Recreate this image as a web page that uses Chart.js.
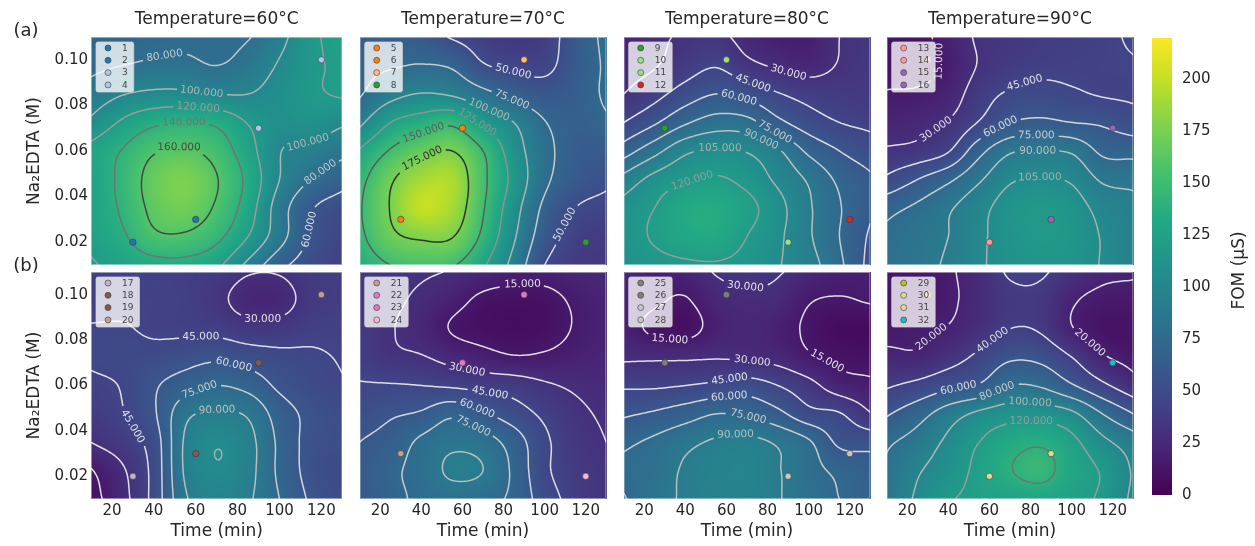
<!DOCTYPE html>
<html>
<head>
<meta charset="utf-8">
<script src="https://cdn.jsdelivr.net/npm/chart.js@4.4.0/dist/chart.umd.min.js"></script>
<style>
html, body { margin: 0; padding: 0; background: #fff; }
#wrap { position: relative; width: 1255px; height: 546px; overflow: hidden; }
#wrap canvas { position: absolute; }
</style>
</head>
<body>
<div id="wrap"></div>
<script>
// grid nodes the FOM surfaces were read on (rows run from top = 0.11 M down to 0.01 M)
const timeNodes = [10, 25, 40, 55, 70, 85, 100, 115, 130];
const edtaNodes = [0.11, 0.0975, 0.085, 0.0725, 0.06, 0.0475, 0.035, 0.0225, 0.01];

const temps = [60, 70, 80, 90];
const timeTicks = [20, 40, 60, 80, 100, 120];
const edtaTicks = [0.02, 0.04, 0.06, 0.08, 0.10];
const fomTicks = [0, 25, 50, 75, 100, 125, 150, 175, 200];
const fomMax = 220;

// (a) row
const fom60a = [
  [72, 72, 75, 76, 77, 79, 94, 116, 126],
  [76, 80, 83, 84, 80, 87, 102, 116, 124],
  [88, 99, 104, 104, 100, 100, 108, 117, 122],
  [104, 123, 136, 140, 136, 119, 108, 110, 103],
  [126, 141, 158, 162, 152, 128, 101, 95, 85],
  [126, 145, 168, 176, 161, 135, 100, 80, 68],
  [126, 143, 165, 172, 157, 130, 90, 62, 50],
  [124, 137, 156, 157, 145, 120, 88, 58, 45],
  [118, 126, 132, 133, 124, 95, 66, 50, 40]
];
const fom70a = [
  [66, 66, 62, 48, 40, 35, 40, 62, 80],
  [70, 73, 76, 72, 52, 46, 45, 62, 78],
  [73, 92, 101, 97, 82, 68, 60, 65, 78],
  [95, 125, 137, 145, 120, 100, 76, 66, 72],
  [127, 152, 168, 175, 150, 112, 82, 65, 62],
  [143, 172, 190, 192, 155, 118, 80, 62, 54],
  [148, 176, 200, 190, 152, 110, 70, 50, 44],
  [145, 170, 178, 176, 145, 103, 62, 42, 38],
  [135, 150, 155, 152, 128, 92, 50, 38, 35]
];
const fom80a = [
  [22, 27, 32, 34, 24, 18, 18, 30, 35],
  [25, 29, 38, 44, 34, 28, 24, 31, 36],
  [30, 40, 52, 60, 55, 46, 40, 38, 36],
  [45, 58, 73, 82, 80, 64, 52, 45, 42],
  [68, 85, 102, 107, 104, 92, 72, 60, 52],
  [95, 110, 118, 122, 115, 102, 88, 72, 62],
  [110, 120, 132, 134, 125, 110, 92, 76, 62],
  [112, 122, 130, 132, 120, 108, 92, 75, 58],
  [108, 114, 117, 118, 114, 106, 96, 78, 55]
];
const fom90a = [
  [12, 12, 20, 32, 34, 38, 40, 42, 47],
  [10, 10, 18, 31, 38, 41, 42, 43, 44],
  [16, 17, 22, 38, 47, 50, 47, 44, 43],
  [22, 25, 31, 46, 60, 63, 60, 58, 52],
  [32, 35, 44, 70, 88, 90, 88, 72, 70],
  [48, 60, 72, 88, 103, 106, 103, 88, 86],
  [70, 78, 88, 100, 112, 117, 112, 100, 94],
  [78, 85, 90, 102, 112, 117, 114, 104, 96],
  [80, 86, 92, 103, 110, 113, 112, 104, 96]
];
// (b) row
const fom60b = [
  [40, 42, 42, 40, 38, 31, 31, 38, 40],
  [40, 42, 43, 41, 34, 24, 24, 36, 40],
  [46, 46, 43, 42, 41, 36, 36, 41, 42],
  [47, 49, 50, 54, 57, 53, 49, 47, 44],
  [42, 46, 58, 68, 75, 70, 57, 50, 46],
  [38, 44, 58, 86, 92, 88, 68, 56, 50],
  [30, 38, 52, 92, 104, 95, 72, 55, 52],
  [14, 28, 50, 92, 104, 95, 72, 55, 48],
  [10, 25, 50, 88, 98, 92, 75, 58, 50]
];
const fom70b = [
  [38, 35, 32, 29, 24, 20, 20, 23, 26],
  [38, 33, 27, 20, 12, 10, 11, 17, 22],
  [38, 31, 24, 14, 10, 8, 10, 16, 22],
  [40, 33, 31, 25, 20, 16, 17, 20, 23],
  [46, 46, 45, 43, 40, 38, 32, 28, 26],
  [52, 58, 62, 72, 62, 52, 42, 33, 28],
  [60, 66, 78, 86, 82, 68, 48, 36, 30],
  [62, 72, 80, 93, 90, 72, 48, 38, 32],
  [60, 70, 78, 80, 78, 72, 52, 40, 32]
];
const fom80b = [
  [24, 20, 22, 31, 34, 31, 25, 20, 19],
  [22, 17, 14, 24, 27, 26, 16, 14, 16],
  [22, 12, 10, 20, 25, 20, 13, 7, 6],
  [28, 28, 28, 29, 28, 25, 17, 12, 10],
  [43, 43, 45, 48, 52, 45, 35, 22, 18],
  [58, 62, 68, 75, 73, 64, 50, 46, 31],
  [72, 78, 86, 92, 94, 88, 77, 57, 55],
  [78, 82, 92, 97, 98, 91, 80, 72, 66],
  [74, 84, 92, 96, 96, 91, 82, 75, 68]
];
const fom90b = [
  [14, 14, 18, 28, 42, 42, 32, 24, 22],
  [12, 12, 17, 27, 36, 36, 22, 16, 15],
  [15, 17, 21, 30, 40, 38, 21, 12, 12],
  [24, 23, 32, 44, 57, 55, 40, 22, 15],
  [38, 45, 55, 62, 80, 78, 62, 44, 28],
  [58, 72, 90, 104, 112, 112, 104, 80, 60],
  [77, 88, 104, 120, 132, 137, 125, 105, 90],
  [82, 98, 110, 125, 139, 146, 130, 118, 98],
  [85, 103, 118, 124, 126, 128, 124, 117, 96]
];

// contour levels matplotlib picked for each panel
const levels60a = [60, 80, 100, 120, 140, 160];
const levels70a = [50, 75, 100, 125, 150, 175];
const levels80a = [30, 45, 60, 75, 90, 105, 120];
const levels90a = [15, 30, 45, 60, 75, 90, 105];
const levels60b = [15, 30, 45, 60, 75, 90, 105];
const levels70b = [15, 30, 45, 60, 75, 90];
const levels80b = [15, 30, 45, 60, 75, 90];
const levels90b = [20, 40, 60, 80, 100, 120, 140];

// experimental runs (time is 30/60/90/120 min in every panel)
const runTimes = [30, 60, 90, 120];
const edta60a = [0.02, 0.03, 0.07, 0.10];
const edta70a = [0.03, 0.07, 0.10, 0.02];
const edta80a = [0.07, 0.10, 0.02, 0.03];
const edta90a = [0.10, 0.02, 0.03, 0.07];
const edta60b = [0.02, 0.03, 0.07, 0.10];
const edta70b = [0.03, 0.07, 0.10, 0.02];
const edta80b = [0.07, 0.10, 0.02, 0.03];
const edta90b = [0.10, 0.02, 0.03, 0.07];
const runs60a = ['1', '2', '3', '4'];
const runs70a = ['5', '6', '7', '8'];
const runs80a = ['9', '10', '11', '12'];
const runs90a = ['13', '14', '15', '16'];
const runs60b = ['17', '18', '19', '20'];
const runs70b = ['21', '22', '23', '24'];
const runs80b = ['25', '26', '27', '28'];
const runs90b = ['29', '30', '31', '32'];
const runColors = [
  '#1f77b4', '#1f77b4', '#aec7e8', '#aec7e8', '#ff7f0e', '#ff7f0e', '#ffbb78', '#2ca02c',
  '#2ca02c', '#98df8a', '#98df8a', '#d62728', '#ff9896', '#ff9896', '#9467bd', '#9467bd',
  '#c5b0d5', '#8c564b', '#8c564b', '#c49c94', '#c49c94', '#e377c2', '#e377c2', '#f7b6d2',
  '#7f7f7f', '#7f7f7f', '#c7c7c7', '#c7c7c7', '#bcbd22', '#dbdb8d', '#dbdb8d', '#17becf'
];

const grids = [fom60a, fom70a, fom80a, fom90a, fom60b, fom70b, fom80b, fom90b];
const levelSets = [levels60a, levels70a, levels80a, levels90a, levels60b, levels70b, levels80b, levels90b];
const edtaSets = [edta60a, edta70a, edta80a, edta90a, edta60b, edta70b, edta80b, edta90b];
const runSets = [runs60a, runs70a, runs80a, runs90a, runs60b, runs70b, runs80b, runs90b];

// layout of the 2x4 grid of axes
const plotLeft = [91, 355, 619, 882];
const plotW = 256;
const FONT = "'DejaVu Sans', sans-serif";
const INK = '#262626';

Chart.defaults.font.family = FONT;
Chart.defaults.color = INK;

const viridis = ['#440154', '#482475', '#414487', '#355f8d', '#2a788e', '#21918c',
                 '#22a884', '#44bf70', '#7ad151', '#bddf26', '#fde725'];
const viridisRgb = viridis.map(h => [1, 3, 5].map(k => parseInt(h.slice(k, k + 2), 16)));

function viridisAt(t) {
  t = Math.max(0, Math.min(1, t)) * (viridisRgb.length - 1);
  const i = Math.min(viridisRgb.length - 2, Math.floor(t)), f = t - i;
  const a = viridisRgb[i], b = viridisRgb[i + 1];
  return [a[0] + (b[0] - a[0]) * f, a[1] + (b[1] - a[1]) * f, a[2] + (b[2] - a[2]) * f];
}

// contour line grey goes darker with the level
const greyStops = [[0, 246], [45, 240], [60, 228], [75, 214], [90, 198], [105, 180],
                   [120, 158], [140, 112], [160, 62], [180, 30]];
function lineColor(lev) {
  let g = greyStops[greyStops.length - 1][1];
  for (let i = 0; i < greyStops.length - 1; i++) {
    const [l0, g0] = greyStops[i], [l1, g1] = greyStops[i + 1];
    if (lev <= l1) { g = g0 + (g1 - g0) * (lev - l0) / (l1 - l0); break; }
  }
  g = Math.round(g);
  return `rgba(${g},${g},${g},0.9)`;
}

// fractional index of v inside a monotonic node list
function nodeIndex(nodes, v) {
  const n = nodes.length;
  const asc = nodes[n - 1] > nodes[0];
  for (let i = 0; i < n - 1; i++) {
    const a = nodes[i], b = nodes[i + 1];
    if ((asc && v <= b) || (!asc && v >= b)) return Math.max(0, i + (v - a) / (b - a));
  }
  return n - 1;
}

function cr(p0, p1, p2, p3, t) {
  return p1 + 0.5 * t * (p2 - p0 + t * (2 * p0 - 5 * p1 + 4 * p2 - p3 + t * (3 * (p1 - p2) + p3 - p0)));
}

function at(arr, k) {
  const n = arr.length;
  if (k < 0) return 2 * arr[0] - arr[1];
  if (k > n - 1) return 2 * arr[n - 1] - arr[n - 2];
  return arr[k];
}

// bicubic (Catmull-Rom) read of the grid at fractional node position
function sampleField(g, fx, fy) {
  const ny = g.length, nx = g[0].length;
  const i = Math.max(0, Math.min(nx - 2, Math.floor(fx)));
  const j = Math.max(0, Math.min(ny - 2, Math.floor(fy)));
  const tx = fx - i, ty = fy - j;
  const r = [];
  for (let m = -1; m <= 2; m++) {
    let row;
    if (j + m < 0) row = g[0].map((v, q) => 2 * v - g[1][q]);
    else if (j + m > ny - 1) row = g[ny - 1].map((v, q) => 2 * v - g[ny - 2][q]);
    else row = g[j + m];
    r.push(cr(at(row, i - 1), row[i], row[i + 1], at(row, i + 2), tx));
  }
  return cr(r[0], r[1], r[2], r[3], ty);
}

// marching squares, segments joined into polylines
function contourLines(V, xs, ys, lev) {
  const nx = xs.length, ny = ys.length;
  const segs = [];
  const pts = {};
  const edge = (key, x0, y0, v0, x1, y1, v1) => {
    if (!pts[key]) {
      const t = (lev - v0) / (v1 - v0);
      pts[key] = [x0 + (x1 - x0) * t, y0 + (y1 - y0) * t];
    }
    return key;
  };
  for (let j = 0; j < ny - 1; j++) {
    for (let i = 0; i < nx - 1; i++) {
      const a = V[j][i], b = V[j][i + 1], c = V[j + 1][i + 1], d = V[j + 1][i];
      const code = (a > lev ? 8 : 0) | (b > lev ? 4 : 0) | (c > lev ? 2 : 0) | (d > lev ? 1 : 0);
      if (code === 0 || code === 15) continue;
      const T = (a > lev) !== (b > lev) ? edge('h' + i + '_' + j, xs[i], ys[j], a, xs[i + 1], ys[j], b) : null;
      const R = (b > lev) !== (c > lev) ? edge('v' + (i + 1) + '_' + j, xs[i + 1], ys[j], b, xs[i + 1], ys[j + 1], c) : null;
      const B = (d > lev) !== (c > lev) ? edge('h' + i + '_' + (j + 1), xs[i], ys[j + 1], d, xs[i + 1], ys[j + 1], c) : null;
      const L = (a > lev) !== (d > lev) ? edge('v' + i + '_' + j, xs[i], ys[j], a, xs[i], ys[j + 1], d) : null;
      if (code === 5 || code === 10) {
        const mid = (a + b + c + d) / 4 > lev;
        if ((code === 10) === mid) { segs.push([T, R], [B, L]); }
        else { segs.push([L, T], [R, B]); }
      } else {
        const k = [T, R, B, L].filter(Boolean);
        segs.push([k[0], k[1]]);
      }
    }
  }
  const byKey = {};
  segs.forEach((s, n) => {
    (byKey[s[0]] = byKey[s[0]] || []).push(n);
    (byKey[s[1]] = byKey[s[1]] || []).push(n);
  });
  const used = new Uint8Array(segs.length);
  const lines = [];
  for (let n = 0; n < segs.length; n++) {
    if (used[n]) continue;
    used[n] = 1;
    const tail = [segs[n][1]], head = [segs[n][0]];
    for (const chain of [tail, head]) {
      let more = true;
      while (more) {
        more = false;
        const end = chain[chain.length - 1];
        for (const m of byKey[end]) {
          if (used[m]) continue;
          used[m] = 1;
          chain.push(segs[m][0] === end ? segs[m][1] : segs[m][0]);
          more = true;
          break;
        }
      }
    }
    lines.push(head.reverse().concat(tail).map(k => pts[k]));
  }
  return lines;
}

function pointAt(pts, cum, s) {
  const n = cum.length;
  if (s <= 0) return pts[0];
  if (s >= cum[n - 1]) return pts[n - 1];
  let i = 1;
  while (i < n - 1 && cum[i] < s) i++;
  const seg = cum[i] - cum[i - 1] || 1;
  const f = Math.max(0, Math.min(1, (s - cum[i - 1]) / seg));
  return [pts[i - 1][0] + (pts[i][0] - pts[i - 1][0]) * f, pts[i - 1][1] + (pts[i][1] - pts[i - 1][1]) * f];
}

// point on a closed path, wrapping round
function loopPointAt(pts, cum, s) {
  const L = cum[cum.length - 1];
  return pointAt(pts, cum, ((s % L) + L) % L);
}

function inside(p, a, mx, my) {
  return p[0] > a.left + mx && p[0] < a.right - mx && p[1] > a.top + my && p[1] < a.bottom - my;
}

// choose a straight, fairly level stretch of the line for its label,
// away from the edges and from the key box
function pickLabel(pts, cum, tw, a, closed) {
  const L = cum[cum.length - 1];
  if (L < tw * (closed ? 3.4 : 2.2)) return null;
  const get = closed ? loopPointAt : pointAt;
  let best = null, bestScore = Infinity;
  const s0 = closed ? 0 : tw / 2 + 4, s1 = closed ? L : L - tw / 2 - 4;
  for (let s = s0; s <= s1; s += 3) {
    const p = get(pts, cum, s), p0 = get(pts, cum, s - tw / 2), p1 = get(pts, cum, s + tw / 2);
    const bend = tw - Math.hypot(p1[0] - p0[0], p1[1] - p0[1]);
    let ang = Math.atan2(p1[1] - p0[1], p1[0] - p0[0]);
    if (ang > Math.PI / 2) ang -= Math.PI;
    if (ang < -Math.PI / 2) ang += Math.PI;
    let pen = 0;
    if (!inside(p0, a, 4, 6) || !inside(p1, a, 4, 6)) pen += 60;
    if (p[0] < a.left + 52 && p[1] < a.top + 64) pen += 60;
    const place = closed ? (p[1] - a.top) * 0.06 : Math.abs(s - L / 2) * 0.04;
    const score = bend * 4 + place + Math.abs(ang) * 4 + pen;
    if (score < bestScore) { bestScore = score; best = { s, p, ang }; }
  }
  return best;
}

function drawContour(ctx, pts, color, text, a) {
  const cum = [0];
  for (let i = 1; i < pts.length; i++) {
    cum.push(cum[i - 1] + Math.hypot(pts[i][0] - pts[i - 1][0], pts[i][1] - pts[i - 1][1]));
  }
  const L = cum[cum.length - 1];
  const n = pts.length;
  const closed = Math.hypot(pts[0][0] - pts[n - 1][0], pts[0][1] - pts[n - 1][1]) < 3;
  ctx.font = "10.5px " + FONT;
  const tw = ctx.measureText(text).width;
  const lab = pickLabel(pts, cum, tw, a, closed);
  const gap = tw / 2 + 3;
  const inGap = s => {
    if (!lab) return false;
    let d = Math.abs(s - lab.s);
    if (closed) d = Math.min(d, L - d);
    return d < gap;
  };
  ctx.strokeStyle = color;
  ctx.lineWidth = 1.5;
  ctx.lineJoin = 'round';
  ctx.beginPath();
  let pen = false;
  for (let i = 0; i < n; i++) {
    if (inGap(cum[i])) { pen = false; continue; }
    if (pen) ctx.lineTo(pts[i][0], pts[i][1]);
    else { ctx.moveTo(pts[i][0], pts[i][1]); pen = true; }
  }
  ctx.stroke();
  if (lab) {
    ctx.save();
    ctx.translate(lab.p[0], lab.p[1]);
    ctx.rotate(lab.ang);
    ctx.fillStyle = color;
    ctx.textAlign = 'center';
    ctx.textBaseline = 'middle';
    ctx.fillText(text, 0, 0);
    ctx.restore();
  }
}

// filled surface + contour lines, drawn under the run markers
function makeField(grid, levels) {
  return {
    id: 'fomField',
    beforeDatasetsDraw(chart) {
      const { ctx, chartArea: a, scales: { x, y } } = chart;
      const w = Math.round(a.right - a.left), h = Math.round(a.bottom - a.top);
      const off = document.createElement('canvas');
      off.width = w; off.height = h;
      const octx = off.getContext('2d');
      const img = octx.createImageData(w, h);
      const fxs = [];
      for (let px = 0; px < w; px++) fxs.push(nodeIndex(timeNodes, x.getValueForPixel(a.left + px + 0.5)));
      for (let py = 0; py < h; py++) {
        const fy = nodeIndex(edtaNodes, y.getValueForPixel(a.top + py + 0.5));
        for (let px = 0; px < w; px++) {
          const c = viridisAt(sampleField(grid, fxs[px], fy) / fomMax);
          const k = (py * w + px) * 4;
          img.data[k] = c[0]; img.data[k + 1] = c[1]; img.data[k + 2] = c[2]; img.data[k + 3] = 255;
        }
      }
      octx.putImageData(img, 0, 0);
      ctx.drawImage(off, a.left, a.top);

      // lattice for the contour lines
      const step = 2;
      const xs = [], ys = [];
      for (let p = a.left; p < a.right; p += step) xs.push(p);
      xs.push(a.right);
      for (let p = a.top; p < a.bottom; p += step) ys.push(p);
      ys.push(a.bottom);
      const fxl = xs.map(p => nodeIndex(timeNodes, x.getValueForPixel(p)));
      const V = ys.map(p => {
        const fy = nodeIndex(edtaNodes, y.getValueForPixel(p));
        return fxl.map(fx => sampleField(grid, fx, fy));
      });
      ctx.save();
      ctx.beginPath();
      ctx.rect(a.left, a.top, a.right - a.left, a.bottom - a.top);
      ctx.clip();
      levels.forEach(lev => {
        contourLines(V, xs, ys, lev).forEach(line => {
          if (line.length > 2) drawContour(ctx, line, lineColor(lev), lev.toFixed(3), a);
        });
      });
      ctx.restore();
      // faint light frame round the axes
      ctx.save();
      ctx.strokeStyle = 'rgba(255,255,255,0.45)';
      ctx.lineWidth = 1;
      ctx.strokeRect(a.left + 0.5, a.top + 0.5, a.right - a.left - 1, a.bottom - a.top - 1);
      ctx.restore();
    }
  };
}

// run key box in the upper left corner of each axes
const runKey = {
  id: 'runKey',
  afterDatasetsDraw(chart) {
    const { ctx, chartArea: a } = chart;
    const ds = chart.data.datasets;
    ctx.save();
    ctx.font = "9px " + FONT;
    const tw = Math.max(...ds.map(d => ctx.measureText(d.label).width));
    const bx = a.left + 5, by = a.top + 5, bw = 26 + tw + 6, bh = 12.3 * ds.length + 0.8;
    ctx.beginPath();
    ctx.roundRect(bx, by, bw, bh, 2);
    ctx.fillStyle = 'rgba(255,255,255,0.78)';
    ctx.fill();
    ctx.strokeStyle = 'rgba(215,215,215,0.9)';
    ctx.lineWidth = 0.8;
    ctx.stroke();
    ds.forEach((d, i) => {
      const cy = by + 6 + i * 12.3;
      ctx.beginPath();
      ctx.arc(bx + 12, cy, 3, 0, Math.PI * 2);
      ctx.fillStyle = d.backgroundColor;
      ctx.fill();
      ctx.strokeStyle = d.borderColor;
      ctx.lineWidth = 0.7;
      ctx.stroke();
      ctx.fillStyle = '#444';
      ctx.textAlign = 'left';
      ctx.textBaseline = 'middle';
      ctx.fillText(d.label, bx + 26, cy + 0.5);
    });
    ctx.restore();
  }
};

function panelTag(text, x, y) {
  return {
    id: 'panelTag',
    afterDraw(chart) {
      const ctx = chart.ctx;
      ctx.save();
      ctx.font = "18px " + FONT;
      ctx.fillStyle = INK;
      ctx.textAlign = 'center';
      ctx.textBaseline = 'middle';
      ctx.fillText(text, x, y);
      ctx.restore();
    }
  };
}

function zeroPad(s) {
  s.paddingTop = 0; s.paddingBottom = 0; s.paddingLeft = 0; s.paddingRight = 0;
}

const wrap = document.getElementById('wrap');

grids.forEach((grid, k) => {
  const col = k % 4, row = Math.floor(k / 4);
  const yW = col === 0 ? 91 : 0;
  const canvas = document.createElement('canvas');
  canvas.width = yW + plotW;
  canvas.height = row === 0 ? 37 + 228 + 6 : 17 + 227 + 47;
  canvas.style.left = (plotLeft[col] - yW) + 'px';
  canvas.style.top = (row === 0 ? 0 : 255) + 'px';
  wrap.appendChild(canvas);

  const edta = edtaSets[k], runs = runSets[k];
  const datasets = runs.map((r, i) => ({
    label: r,
    data: [{ x: runTimes[i], y: edta[i] }],
    backgroundColor: runColors[+r - 1],
    borderColor: 'rgba(55,55,55,0.85)',
    borderWidth: 0.7,
    pointRadius: 3.2
  }));

  const plugins = [makeField(grid, levelSets[k]), runKey];
  if (k === 0) plugins.push(panelTag('(a)', 26, 31));
  if (k === 4) plugins.push(panelTag('(b)', 26, 11));

  new Chart(canvas, {
    type: 'scatter',
    data: { datasets },
    plugins,
    options: {
      responsive: false,
      animation: false,
      events: [],
      layout: { padding: { top: row === 0 ? 0 : 17, bottom: row === 0 ? 6 : 0, left: 0, right: 0 } },
      plugins: {
        legend: { display: false },
        tooltip: { enabled: false },
        title: {
          display: row === 0,
          text: 'Temperature=' + temps[col] + '°C',
          fullSize: false,
          color: INK,
          font: { size: 17, weight: 'normal', lineHeight: 1.2 },
          padding: { top: 9, bottom: 7.6 }
        }
      },
      scales: {
        x: {
          type: 'linear',
          min: 10, max: 130,
          display: row === 1,
          grid: { display: false, drawTicks: false },
          border: { display: false },
          ticks: { font: { size: 15 }, color: INK, padding: 3 },
          afterBuildTicks: s => { s.ticks = timeTicks.map(v => ({ value: v })); },
          afterFit: s => { s.height = row === 1 ? 47 : 0; zeroPad(s); },
          title: { display: true, text: 'Time (min)', color: INK, font: { size: 17 }, padding: { top: 0, bottom: 4 } }
        },
        y: {
          type: 'linear',
          min: 0.01, max: 0.11,
          display: col === 0,
          grid: { display: false, drawTicks: false },
          border: { display: false },
          ticks: { font: { size: 15 }, color: INK, padding: 3, callback: v => v.toFixed(2) },
          afterBuildTicks: s => { s.ticks = edtaTicks.map(v => ({ value: v })); },
          afterFit: s => { s.width = yW; zeroPad(s); },
          title: { display: true, text: 'Na₂EDTA (M)', color: INK, font: { size: 17 }, padding: { top: 24, bottom: 0 } }
        }
      }
    }
  });
});

// colour bar
const cbCanvas = document.createElement('canvas');
cbCanvas.width = 103;
cbCanvas.height = 475;
cbCanvas.style.left = '1152px';
cbCanvas.style.top = '30px';
wrap.appendChild(cbCanvas);

const cbTitle = {
  id: 'cbTitle',
  afterDraw(chart) {
    const { ctx, chartArea: a } = chart;
    ctx.save();
    ctx.translate(88, (a.top + a.bottom) / 2 + 4);
    ctx.rotate(-Math.PI / 2);
    ctx.font = "17px " + FONT;
    ctx.fillStyle = INK;
    ctx.textAlign = 'center';
    ctx.textBaseline = 'middle';
    ctx.fillText('FOM (μS)', 0, 0);
    ctx.restore();
  }
};

new Chart(cbCanvas, {
  type: 'bar',
  data: {
    labels: ['FOM'],
    datasets: [{
      data: [fomMax],
      barPercentage: 1,
      categoryPercentage: 1,
      borderWidth: 0,
      backgroundColor: c => {
        const { ctx, chartArea, scales } = c.chart;
        if (!chartArea) return viridis[5];
        const g = ctx.createLinearGradient(0, scales.y.getPixelForValue(0), 0, scales.y.getPixelForValue(fomMax));
        viridis.forEach((col, i) => g.addColorStop(i / (viridis.length - 1), col));
        return g;
      }
    }]
  },
  plugins: [cbTitle],
  options: {
    responsive: false,
    animation: false,
    events: [],
    layout: { padding: { top: 8, bottom: 10, left: 0, right: 0 } },
    plugins: { legend: { display: false }, tooltip: { enabled: false } },
    scales: {
      x: { display: false },
      y: {
        position: 'right',
        min: 0, max: fomMax,
        grid: { display: false, drawTicks: false },
        border: { display: false },
        ticks: { font: { size: 15 }, color: INK, padding: 10 },
        afterBuildTicks: s => { s.ticks = fomTicks.map(v => ({ value: v })); },
        afterFit: s => { s.width = 83; zeroPad(s); }
      }
    }
  }
});
</script>
</body>
</html>
